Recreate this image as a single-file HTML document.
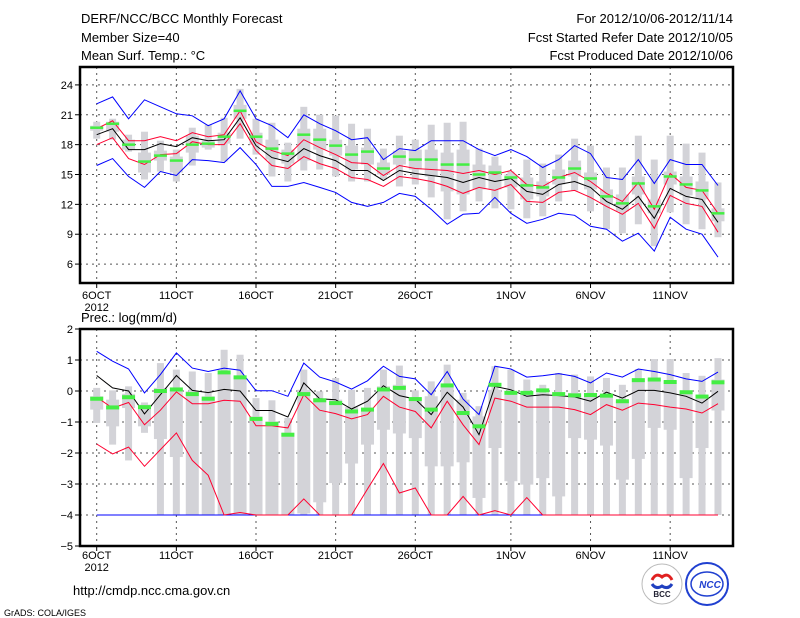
<!DOCTYPE html>
<html><head><meta charset="utf-8">
<style>
html,body{margin:0;padding:0;background:#fff;}
svg{display:block;font-family:"Liberation Sans",sans-serif;}
</style></head>
<body>
<svg id="chart" width="800" height="618" viewBox="0 0 800 618" xmlns="http://www.w3.org/2000/svg">
<rect x="0" y="0" width="800" height="618" fill="#fff"/>
<g font-size="13" fill="#000">
<text x="81" y="23">DERF/NCC/BCC Monthly Forecast</text>
<text x="81" y="42">Member Size=40</text>
<text x="81" y="60">Mean Surf. Temp.: °C</text>
</g>
<g font-size="13" fill="#000" text-anchor="end">
<text x="733" y="23">For 2012/10/06-2012/11/14</text>
<text x="733" y="42">Fcst Started Refer Date 2012/10/05</text>
<text x="733" y="60">Fcst Produced Date 2012/10/06</text>
</g>
<text x="81" y="322" font-size="13">Prec.: log(mm/d)</text>
<text x="73" y="595" font-size="13">http://cmdp.ncc.cma.gov.cn</text>
<text x="4" y="616" font-size="9">GrADS: COLA/IGES</text>
<g>
<circle cx="662" cy="584" r="20" fill="#fff" stroke="#bbb" stroke-width="1"/>
<path d="M652,580 q4,-8 10,-3 q6,-5 10,3" fill="none" stroke="#e02020" stroke-width="3"/>
<path d="M652,584 q4,6 10,2 q6,4 10,-2" fill="none" stroke="#2040c0" stroke-width="3"/>
<text x="662" y="597" font-size="8" font-weight="bold" text-anchor="middle" fill="#223">BCC</text>
</g>
<g>
<circle cx="707" cy="584" r="21" fill="#fff" stroke="#2040d0" stroke-width="2"/>
<ellipse cx="707" cy="584" rx="16" ry="12" fill="none" stroke="#2040d0" stroke-width="1.5"/>
<text x="710" y="588" font-size="10" font-weight="bold" font-style="italic" text-anchor="middle" fill="#2040d0">NCC</text>
</g>
<g id="top"></g>
<g id="bot"></g>
</svg>
<script>
// ---------- Temperature panel data (40 days, 6OCT..14NOV) ----------
const tBlueUp = [22.1,22.8,20.6,22.5,21.8,21.1,20.9,19.9,20.6,23.4,20.6,19.9,18.7,21.0,20.1,19.4,18.5,18.7,16.5,17.6,17.4,18.4,18.4,18.4,17.5,16.9,17.5,16.8,15.7,16.5,17.9,17.1,14.7,14.5,16.5,14.1,16.5,16.0,16.0,13.9];
const tRedUp = [19.6,20.4,18.4,18.4,18.8,18.4,19.2,18.8,19.0,21.4,18.3,17.4,16.9,18.5,17.7,17.0,16.2,16.1,14.9,15.9,15.6,15.5,15.4,15.1,15.4,15.0,15.4,14.0,13.8,14.7,15.2,14.3,13.1,12.3,14.2,11.5,15.1,13.7,13.4,11.1];
const tMean = [19.0,19.6,17.5,17.5,18.1,17.8,18.7,18.4,18.5,20.7,17.9,16.7,16.3,17.6,16.9,16.4,15.4,15.4,14.4,15.4,15.1,14.9,14.7,14.2,14.7,14.3,14.6,13.3,13.0,14.0,14.3,13.7,12.3,11.5,12.8,10.6,13.6,12.8,12.5,10.2];
const tRedLo = [18.0,18.7,16.6,16.0,17.0,17.1,18.3,18.0,18.0,20.1,17.4,15.9,15.6,16.8,16.1,15.6,14.7,14.5,13.8,14.8,14.6,14.3,13.8,13.1,13.7,13.4,14.0,12.3,12.2,13.2,13.4,12.7,11.8,11.0,12.1,9.6,12.9,12.1,11.8,9.2];
const tBlueLo = [15.9,16.6,14.8,13.7,15.3,14.9,16.5,16.4,16.2,17.7,16.0,13.8,13.8,14.2,13.7,13.2,12.2,11.8,12.2,13.1,12.8,11.5,10.0,11.0,11.1,12.7,11.1,10.1,10.5,11.1,10.9,9.8,9.5,8.3,9.1,7.3,10.7,9.5,9.0,6.7];
const tObs = [19.7,20.1,18.0,16.3,16.9,16.4,18.0,18.1,18.8,21.4,18.8,17.6,17.1,19.0,18.5,17.9,17.0,17.3,15.6,16.8,16.5,16.5,16.0,16.0,15.0,15.2,14.7,13.9,13.7,14.7,15.6,14.6,12.8,12.1,14.1,11.8,14.8,14.0,13.4,11.1];
const tMax = [20.3,20.6,19.0,19.3,18.4,17.5,19.7,20.0,20.7,23.6,20.6,20.2,18.2,21.8,21.0,20.9,20.1,19.6,17.6,18.9,18.5,20.0,20.2,20.3,17.6,16.8,15.3,16.5,16.1,17.0,18.6,17.9,15.7,15.7,18.9,16.5,18.9,18.1,17.2,14.2];
const tQ3 = [19.9,20.3,18.5,17.2,17.4,16.8,18.9,18.4,19.2,22.0,19.2,18.5,17.5,19.6,19.6,18.5,17.9,17.7,16.2,17.4,17.5,17.5,17.2,17.5,16.0,15.9,15.0,14.7,14.3,15.5,16.4,15.2,13.5,13.0,14.8,12.5,15.3,14.8,14.3,11.6];
const tQ1 = [19.4,19.3,17.5,15.2,16.4,15.2,17.2,17.7,18.1,20.6,18.0,16.5,16.1,16.4,17.5,16.9,15.5,16.0,15.0,16.0,15.5,14.8,13.3,13.0,13.5,13.5,13.7,12.5,12.8,14.0,14.8,13.5,12.0,11.3,13.0,11.1,14.0,12.9,12.5,10.3];
const tMin = [18.6,18.5,17.3,14.5,15.3,14.3,15.9,17.5,16.3,18.6,17.0,14.8,14.3,15.4,15.5,14.8,14.3,14.3,14.5,13.8,14.0,12.7,10.5,11.3,12.3,11.6,11.5,10.6,10.8,12.3,13.4,11.3,9.5,9.1,10.0,7.8,11.2,10.0,9.5,8.7];
const tTicks = [24,21,18,15,12,9,6];

// ---------- Precipitation panel data ----------
const pBlueUp = [1.28,0.96,0.71,-0.06,0.53,1.23,0.74,0.63,0.74,0.67,0.01,0.01,-0.17,0.90,0.45,0.29,0.06,0.33,0.80,0.47,0.39,-0.12,0.63,-0.26,-0.76,0.80,0.71,0.45,0.49,0.56,0.47,0.26,0.58,0.45,0.71,0.63,0.53,0.39,0.31,0.61];
const pMean = [0.50,0.10,0.00,-0.74,-0.12,0.50,0.02,-0.05,0.05,0.00,-0.63,-0.63,-0.84,0.26,-0.25,-0.28,-0.58,-0.33,0.17,-0.15,-0.26,-0.76,-0.04,-0.52,-1.41,0.15,0.04,-0.17,-0.12,-0.15,-0.19,-0.33,-0.04,-0.23,0.02,0.02,-0.06,-0.17,-0.39,-0.01];
const pRed = [-0.20,-0.55,-0.37,-1.09,-0.62,-0.03,-0.41,-0.41,-0.30,-0.33,-1.12,-1.12,-1.19,-0.12,-0.62,-0.73,-0.90,-0.76,-0.17,-0.52,-0.66,-1.19,-0.33,-1.09,-1.73,-0.23,-0.33,-0.52,-0.52,-0.52,-0.60,-0.76,-0.44,-0.62,-0.39,-0.44,-0.52,-0.58,-0.71,-0.41];
const pRedLo = [-1.71,-2.03,-1.81,-2.43,-1.89,-1.35,-2.24,-2.72,-4,-3.92,-4,-4,-4,-3.48,-4,-4,-4,-3.16,-2.34,-3.29,-3.13,-4,-4,-3.40,-4,-3.86,-4,-3.44,-4,-4,-4,-4,-4,-4,-4,-4,-4,-4,-4,-4];
const pBlueLo = [-4,-4,-4,-4,-4,-4,-4,-4,-4,-4,-4,-4,-4,-4,-4,-4,-4,-4,-4,-4,-4,-4,-4,-4,-4,-4,-4,-4,-4,-4,-4,-4,-4,-4,-4,-4,-4,-4,-4,-4];
const pObs = [-0.25,-0.53,-0.20,-0.52,0.00,0.05,-0.10,-0.25,0.60,0.44,-0.90,-1.06,-1.41,-0.10,-0.30,-0.39,-0.66,-0.60,0.05,0.10,-0.26,-0.60,0.18,-0.71,-1.14,0.20,-0.06,-0.06,0.02,-0.10,-0.14,-0.13,-0.15,-0.33,0.35,0.37,0.29,-0.04,-0.18,0.28];
const pMax = [0.10,0.02,0.15,-0.37,0.90,0.69,0.63,0.58,1.33,1.17,-0.23,-0.30,-0.87,0.69,-0.01,0.42,0.04,0.10,0.69,0.82,0.02,0.31,0.85,-0.06,-0.49,0.80,0.69,0.37,0.20,0.58,0.53,0.47,0.42,0.20,0.71,1.03,1.03,0.58,0.49,1.06];
const pQ3 = [-0.17,-0.28,-0.09,-0.44,0.10,0.04,-0.01,-0.17,0.58,0.47,-0.82,-0.98,-1.35,0.04,-0.23,-0.28,-0.52,-0.55,0.15,0.20,-0.23,-0.17,0.20,-0.28,-0.82,0.04,-0.13,-0.13,-0.06,-0.13,-0.06,-0.06,-0.17,-0.33,0.37,0.39,0.31,-0.06,-0.12,0.37];
const pQ1 = [-0.60,-1.14,-0.55,-1.14,-1.55,-2.13,-4,-4,-4,-4,-4,-4,-4,-3.95,-3.59,-2.97,-2.34,-1.73,-1.25,-1.37,-1.52,-2.43,-2.43,-2.30,-3.45,-1.84,-2.91,-3.02,-2.81,-3.40,-1.52,-1.57,-1.76,-2.86,-2.19,-1.19,-1.25,-2.81,-1.84,-0.63];
const pMin = [-1.03,-1.73,-2.24,-1.35,-4,-4,-4,-4,-4,-4,-4,-4,-4,-4,-4,-4,-4,-4,-4,-4,-4,-4,-4,-4,-4,-4,-4,-4,-4,-4,-4,-4,-4,-4,-4,-4,-4,-4,-4,-4];
const pTicks = [2,1,0,-1,-2,-3,-4,-5];

const dateLabels = ["6OCT","11OCT","16OCT","21OCT","26OCT","1NOV","6NOV","11NOV"];
const dateIdx = [0,5,10,15,20,26,31,36];

const NS = "http://www.w3.org/2000/svg";
const X0 = 80, X1 = 733, D0 = 96.7, DSTEP = 15.93;
function xDay(i){ return D0 + i*DSTEP; }
function mk(tag, attrs, parent){ const e=document.createElementNS(NS,tag); for(const k in attrs) e.setAttribute(k,attrs[k]); parent.appendChild(e); return e; }

function panel(g, top, bottom, vmax, vmin, ticks, grid, series, boxes, obs, obsH, lowerClip, labY){
  const y = v => top + (vmax - v)/(vmax - vmin)*(bottom - top);
  // grid
  ticks.forEach(t=>{
    const yy=y(t);
    if(t<vmax && t>vmin){
      const l=mk('line',{x1:X0,x2:X1,y1:yy,y2:yy,stroke:'#555','stroke-width':1,'stroke-dasharray':'2,4'},g);
      
      
    }
    const tk=mk('line',{x1:X0-5,x2:X0,y1:yy,y2:yy,stroke:'#000','stroke-width':1},g);
    
    
    const tx=mk('text',{x:X0-7,y:yy+4,'font-size':11,'text-anchor':'end'},g);
    tx.textContent = t<0 ? '\u2212'+Math.abs(t) : String(t);
    
    
  });
  dateIdx.forEach((d,k)=>{
    const xx=xDay(d);
    const l=mk('line',{x1:xx,x2:xx,y1:top,y2:bottom,stroke:'#555','stroke-width':1,'stroke-dasharray':'2,4'},g);
    
    
    const tk=mk('line',{x1:xx,x2:xx,y1:bottom,y2:bottom+5,stroke:'#000','stroke-width':1},g);
    
    
    const tx=mk('text',{x:xx,y:labY,'font-size':11,'text-anchor':'middle'},g);
    tx.textContent=dateLabels[k];
    
    
  });
  const yr=mk('text',{x:xDay(0),y:labY+12,'font-size':11,'text-anchor':'middle'},g);
  yr.textContent='2012';
  
  
  // boxes
  for(let i=0;i<boxes.max.length;i++){
    const xx=xDay(i);
    const o=mk('rect',{x:xx-3.5,y:y(boxes.max[i]),width:7,height:Math.max(1,y(boxes.min[i])-y(boxes.max[i])),fill:'#d3d3d8'},g);
    
    
    const q=mk('rect',{x:xx-6.5,y:y(boxes.q3[i]),width:13,height:Math.max(1,y(boxes.q1[i])-y(boxes.q3[i])),fill:'#d3d3d8'},g);
    
    
  }
  // lines
  series.forEach(s=>{
    const pts=s.data.map((v,i)=>xDay(i).toFixed(1)+','+y(v).toFixed(1)).join(' ');
    const p=mk('polyline',{points:pts,fill:'none',stroke:s.color,'stroke-width':1},g);
    
    
  });
  // obs
  obs.forEach((v,i)=>{
    const r=mk('rect',{x:xDay(i)-6.5,y:y(v)-obsH/2,width:13,height:obsH,fill:'#44ee44'},g);
    
    
  });
  const f=mk('rect',{x:X0,y:top,width:X1-X0,height:bottom-top,fill:'none',stroke:'#000','stroke-width':2.5},g);
  
  
}

panel(document.getElementById('top'), 67, 283, 25.8, 4.1, tTicks, true,
  [{data:tBlueUp,color:'#0000ff',name:'temp-upper-bound'},{data:tBlueLo,color:'#0000ff',name:'temp-lower-bound'},
   {data:tRedUp,color:'#ff0030',name:'temp-upper-spread'},{data:tRedLo,color:'#ff0030',name:'temp-lower-spread'},
   {data:tMean,color:'#000000',name:'temp-ensemble-mean'}],
  {max:tMax,q3:tQ3,q1:tQ1,min:tMin}, tObs, 2.5, null, 299);

panel(document.getElementById('bot'), 329, 546, 2, -5, pTicks, true,
  [{data:pBlueUp,color:'#0000ff',name:'precip-upper-bound'},{data:pBlueLo,color:'#0000ff',name:'precip-lower-bound'},
   {data:pRedLo,color:'#ff0030',name:'precip-lower-spread'},{data:pRed,color:'#ff0030',name:'precip-upper-spread'},
   {data:pMean,color:'#000000',name:'precip-ensemble-mean'}],
  {max:pMax,q3:pQ3,q1:pQ1,min:pMin}, pObs, 4, null, 559);
</script>
</body></html>
